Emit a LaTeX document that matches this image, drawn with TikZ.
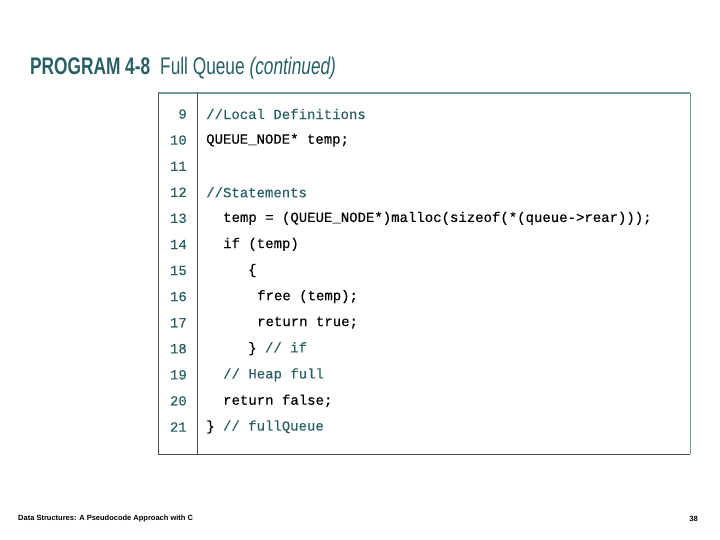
\documentclass[tikz,border=0pt]{standalone}
\usepackage{fontspec}
\setmainfont{Liberation Sans}
\newfontfamily\codefont{Liberation Mono}[FakeBold=0.3]
\newfontfamily\titlefont{Liberation Sans}[FakeStretch=0.72]
\definecolor{teal1}{RGB}{40,95,100}
\definecolor{boxline}{RGB}{120,150,150}
\begin{document}
\begin{tikzpicture}[x=1pt,y=-1pt,
  code/.style={anchor=west,inner sep=0,font=\codefont\fontsize{14}{14}\selectfont},
  cmt/.style={code,text=teal1},
  num/.style={anchor=east,inner sep=0,text=teal1,font=\codefont\fontsize{14}{14}\selectfont}]
\useasboundingbox (0,0) rectangle (720,540);
\node[anchor=west,inner sep=0,font=\titlefont\fontsize{24}{24}\selectfont,text=teal1] (title) at (30,68) {\textbf{PROGRAM 4-8}\hspace{10pt}Full Queue \textit{(continued)}};
\draw[boxline,line width=1.2pt] (158,93) -- (690,93);
\draw[boxline,line width=0.8pt] (690,93) -- (690,454);
\draw[black!70,line width=1pt] (158,93) -- (158,454) -- (690,454);
\draw[black!70,line width=0.8pt] (197,93) -- (197,454);
\foreach \n [count=\i from 0] in {9,...,21}{
  \node[num] (n\n) at (187,{114+26.08*\i}) {\n};
}
\def\ly#1{{114+26.08*(#1-9)}}
\node[cmt] (l9) at (206,\ly{9}) {//Local Definitions};
\node[code] (l10) at (206,\ly{10}) {QUEUE\_NODE* temp;};
\node[cmt] (l12) at (206,\ly{12}) {//Statements};
\node[code] (l13) at (223,\ly{13}) {temp = (QUEUE\_NODE*)malloc(sizeof(*(queue->rear)));};
\node[code] (l14) at (223,\ly{14}) {if (temp)};
\node[code] (l15) at (248,\ly{15}) {\{};
\node[code] (l16) at (257,\ly{16}) {free (temp);};
\node[code] (l17) at (257,\ly{17}) {return true;};
\node[code] (l18) at (248,\ly{18}) {\} \textcolor{teal1}{// if}};
\node[cmt] (l19) at (223,\ly{19}) {// Heap full};
\node[code] (l20) at (223,\ly{20}) {return false;};
\node[code] (l21) at (206,\ly{21}) {\} \textcolor{teal1}{// fullQueue}};
\node[anchor=west,inner sep=0,font=\fontsize{7.5}{8}\selectfont\bfseries] (foot) at (18,519) {Data Structures: A Pseudocode Approach with C};
\node[anchor=east,inner sep=0,font=\fontsize{7.5}{8}\selectfont\bfseries] (pg) at (698,519) {38};
\end{tikzpicture}
\end{document}
